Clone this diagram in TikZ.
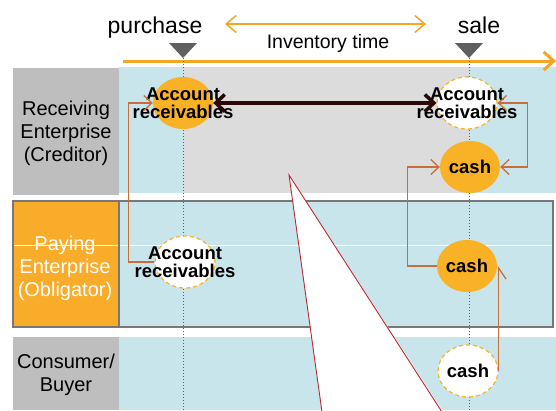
\documentclass[tikz,border=0pt]{standalone}
\usepackage{fontspec}
\setmainfont{Liberation Sans}
\usetikzlibrary{shapes.geometric,arrows.meta}
\definecolor{bandblue}{HTML}{C8E5EC}
\definecolor{labelgray}{HTML}{BEBEBE}
\definecolor{midgray}{HTML}{DCDCDC}
\definecolor{accorange}{HTML}{F9B125}
\definecolor{labelorange}{HTML}{F8AC2A}
\definecolor{linkbrown}{HTML}{C86E3A}
\definecolor{timeorange}{HTML}{F5A623}
\definecolor{darkarrow}{HTML}{2A0808}
\definecolor{markgray}{HTML}{5F5F5F}
\definecolor{calloutred}{HTML}{C0272D}
\begin{document}
\begin{tikzpicture}[x=1pt,y=-1pt,
    acctext/.style={align=center,font=\bfseries\fontsize{18.5}{18}\selectfont},
    state/.style={ellipse,minimum width=60pt,minimum height=52pt,inner sep=0pt,font=\bfseries\fontsize{18.5}{18}\selectfont},
    paidstate/.style={state,fill=accorange},
    duestate/.style={state,fill=white,draw=accorange,line width=1.2pt,dash pattern=on 4pt off 3pt},
    rowlabel/.style={align=center,font=\fontsize{20}{23}\selectfont},
    barb/.style={Straight Barb[length=8pt,width=15pt]},
    link/.style={draw=linkbrown,line width=1.3pt,-{Straight Barb[length=8pt,width=15pt]}}]
    \useasboundingbox (0,0) rectangle (556,410);
    \fill[labelgray] (13,68) rectangle (119,195);
    \fill[bandblue] (119,67) rectangle (556,193);
    \fill[midgray] (183,67) rectangle (470,193);
    \fill[labelorange] (13,201) rectangle (119,327);
    \fill[bandblue] (119,201) rectangle (553,327);
    \draw[white,line width=0.8pt] (13,245) -- (553,245);
    \draw[markgray!85,line width=2.5pt] (13,201) rectangle (553,327) (119,201) -- (119,327);
    \fill[labelgray] (13,337) rectangle (119,410);
    \fill[bandblue] (119,337) rectangle (556,410);
    \fill[white] (289,175) -- (322,410) -- (442,410) -- cycle;
    \draw[calloutred,line width=0.9pt] (322,412) -- (289,175) -- (442,412);
    \node[rowlabel] (creditor) at (66,133) {Receiving\\Enterprise\\(Creditor)};
    \node[rowlabel,white] (obligator) at (65,268) {Paying\\Enterprise\\(Obligator)};
    \node[rowlabel] (buyer) at (66,375) {Consumer/\\Buyer};
    \node[anchor=base,font=\fontsize{23}{23}\selectfont] (purchase) at (155,33) {purchase};
    \node[anchor=base,font=\fontsize{23}{23}\selectfont] (sale) at (479,33) {sale};
    \node[anchor=base,font=\fontsize{19.5}{19}\selectfont] (invtime) at (328,48) {Inventory time};
    \coordinate (timeleft) at (225,24);
    \coordinate (timeright) at (426,24);
    \draw[timeorange,line width=1.5pt,{Straight Barb[length=10pt,width=17pt]}-{Straight Barb[length=10pt,width=17pt]}] (timeleft) -- (timeright);
    \coordinate (axisstart) at (123,61);
    \coordinate (axisend) at (556,61);
    \draw[timeorange,line width=3pt,-{Straight Barb[length=10pt,width=18pt]}] (axisstart) -- (axisend);
    \coordinate (buypt) at (183,58);
    \coordinate (salept) at (469,58);
    \draw[markgray,dotted,line width=1pt] (buypt) -- (183,410);
    \draw[markgray,dotted,line width=1pt] (salept) -- (469,410);
    \fill[markgray] (buypt) -- ++(-14,-15) -- ++(28,0) -- cycle;
    \fill[markgray] (salept) -- ++(-14,-15) -- ++(28,0) -- cycle;
    \node[paidstate,label={[acctext]center:Account\\receivables}] (arbuy) at (183,103) {};
    \node[duestate,label={[acctext]center:Account\\receivables}] (arsale) at (467,103) {};
    \node[paidstate] (cashrec) at (470,167) {cash};
    \node[duestate,label={[acctext]center:Account\\receivables}] (ardue) at (185,262) {};
    \node[paidstate] (cashpay) at (467,266) {cash};
    \node[duestate] (cashbuy) at (468,371) {cash};
    \draw[darkarrow,line width=3.5pt,{Straight Barb[length=9pt,width=17pt]}-{Straight Barb[length=9pt,width=17pt]}] (arbuy.east) -- (arsale.west);
    \draw[link] (ardue.west) -- ++(-26,0) |- (arbuy.west);
    \draw[link,{Straight Barb[length=8pt,width=15pt]}-{Straight Barb[length=8pt,width=15pt]}] (arsale.east) -- ++(30,0) |- (cashrec.east);
    \draw[link] (cashpay.west) -- ++(-29,0) |- (cashrec.west);
    \draw[draw=linkbrown,line width=1.3pt,-{Straight Barb[harpoon,swap,length=11pt,width=15pt]}] (cashbuy.east) -- (cashbuy.east |- cashpay.east);
\end{tikzpicture}
\end{document}
